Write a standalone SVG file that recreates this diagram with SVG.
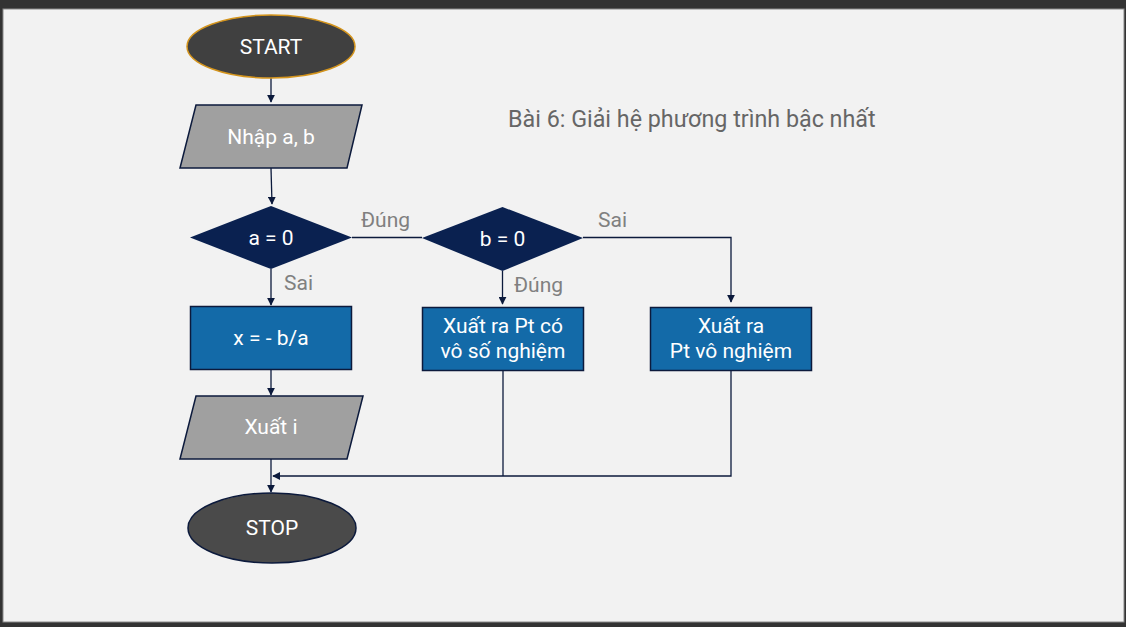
<svg xmlns="http://www.w3.org/2000/svg" width="1126" height="627" viewBox="0 0 1126 627">
<defs>
<style>
.t{font-family:Roboto,"Liberation Sans",sans-serif;font-size:21px;fill:#ffffff;text-anchor:middle}
.lbl{font-family:Roboto,"Liberation Sans",sans-serif;font-size:21px;fill:#808080}
.ln{fill:none;stroke:#0c1a3c;stroke-width:1.3}
.blue{fill:#136aa8;stroke:#0c1a3c;stroke-width:1.5}
.gray{fill:#a0a0a0;stroke:#0c1a3c;stroke-width:1.5}
.dia{fill:#0a2150}
</style>
<marker id="ah" viewBox="0 0 10 10" refX="9" refY="5" markerWidth="8" markerHeight="8" markerUnits="userSpaceOnUse" orient="auto">
<path d="M0,0 L10,5 L0,10 z" fill="#0c1a3c"/>
</marker>
</defs>
<rect x="0" y="0" width="1126" height="627" fill="#333333"/>
<rect x="3" y="9" width="1121" height="613" fill="#f2f2f2" stroke="#8a8a8a" stroke-width="1"/>
<text x="508" y="127" font-family="Roboto,'Liberation Sans',sans-serif" font-size="23.3" fill="#666666">Bài 6: Giải hệ phương trình bậc nhất</text>
<g id="connectors">
<line class="ln" x1="271" y1="78" x2="271" y2="102" marker-end="url(#ah)"/>
<line class="ln" x1="271" y1="168" x2="272" y2="204" marker-end="url(#ah)"/>
<line class="ln" x1="352" y1="237.5" x2="422" y2="237.5"/>
<polyline class="ln" points="583,237.5 731,237.5 731,302" marker-end="url(#ah)"/>
<line class="ln" x1="271" y1="269" x2="271" y2="305" marker-end="url(#ah)"/>
<line class="ln" x1="502.5" y1="271" x2="502.5" y2="304" marker-end="url(#ah)"/>
<line class="ln" x1="271" y1="369" x2="271" y2="395" marker-end="url(#ah)"/>
<line class="ln" x1="271" y1="459" x2="271" y2="492" marker-end="url(#ah)"/>
<line class="ln" x1="503" y1="370" x2="503" y2="476"/>
<polyline class="ln" points="731,370 731,476 273,476" marker-end="url(#ah)"/>
<text class="lbl" x="361" y="227">Đúng</text>
<text class="lbl" x="598" y="227">Sai</text>
<text class="lbl" x="284" y="290">Sai</text>
<text class="lbl" x="514" y="292">Đúng</text>
</g>
<g id="start">
<ellipse cx="271" cy="46.5" rx="84" ry="31.5" fill="#404040" stroke="#d4941c" stroke-width="1.5"/>
<text class="t" x="271" y="53.5">START</text>
</g>
<g id="input">
<polygon class="gray" points="196,105 362,105 347,168 180,168"/>
<text class="t" x="271" y="143.5">Nhập a, b</text>
</g>
<g id="cond-a">
<polygon class="dia" points="190,237.5 271,206 352,237.5 271,269"/>
<text class="t" x="271" y="245">a = 0</text>
</g>
<g id="cond-b">
<polygon class="dia" points="422,238 502.5,207 583,238 502.5,271"/>
<text class="t" x="502.5" y="245.5">b = 0</text>
</g>
<g id="calc">
<rect class="blue" x="190.5" y="306.5" width="161" height="63"/>
<text class="t" x="271" y="345">x = - b/a</text>
</g>
<g id="infinite">
<rect class="blue" x="422.5" y="307.5" width="161" height="63"/>
<text class="t" x="503" y="333">Xuất ra Pt có</text>
<text class="t" x="503" y="358">vô số nghiệm</text>
</g>
<g id="none">
<rect class="blue" x="650.5" y="307.5" width="161" height="63"/>
<text class="t" x="731" y="333">Xuất ra</text>
<text class="t" x="731" y="358">Pt vô nghiệm</text>
</g>
<g id="output">
<polygon class="gray" points="196,396 363,396 347,459 180,459"/>
<text class="t" x="271" y="434">Xuất i</text>
</g>
<g id="stop">
<ellipse cx="272" cy="528" rx="84" ry="35" fill="#4a4a4a" stroke="#0c1a3c" stroke-width="1.5"/>
<text class="t" x="272" y="535">STOP</text>
</g>
</svg>
